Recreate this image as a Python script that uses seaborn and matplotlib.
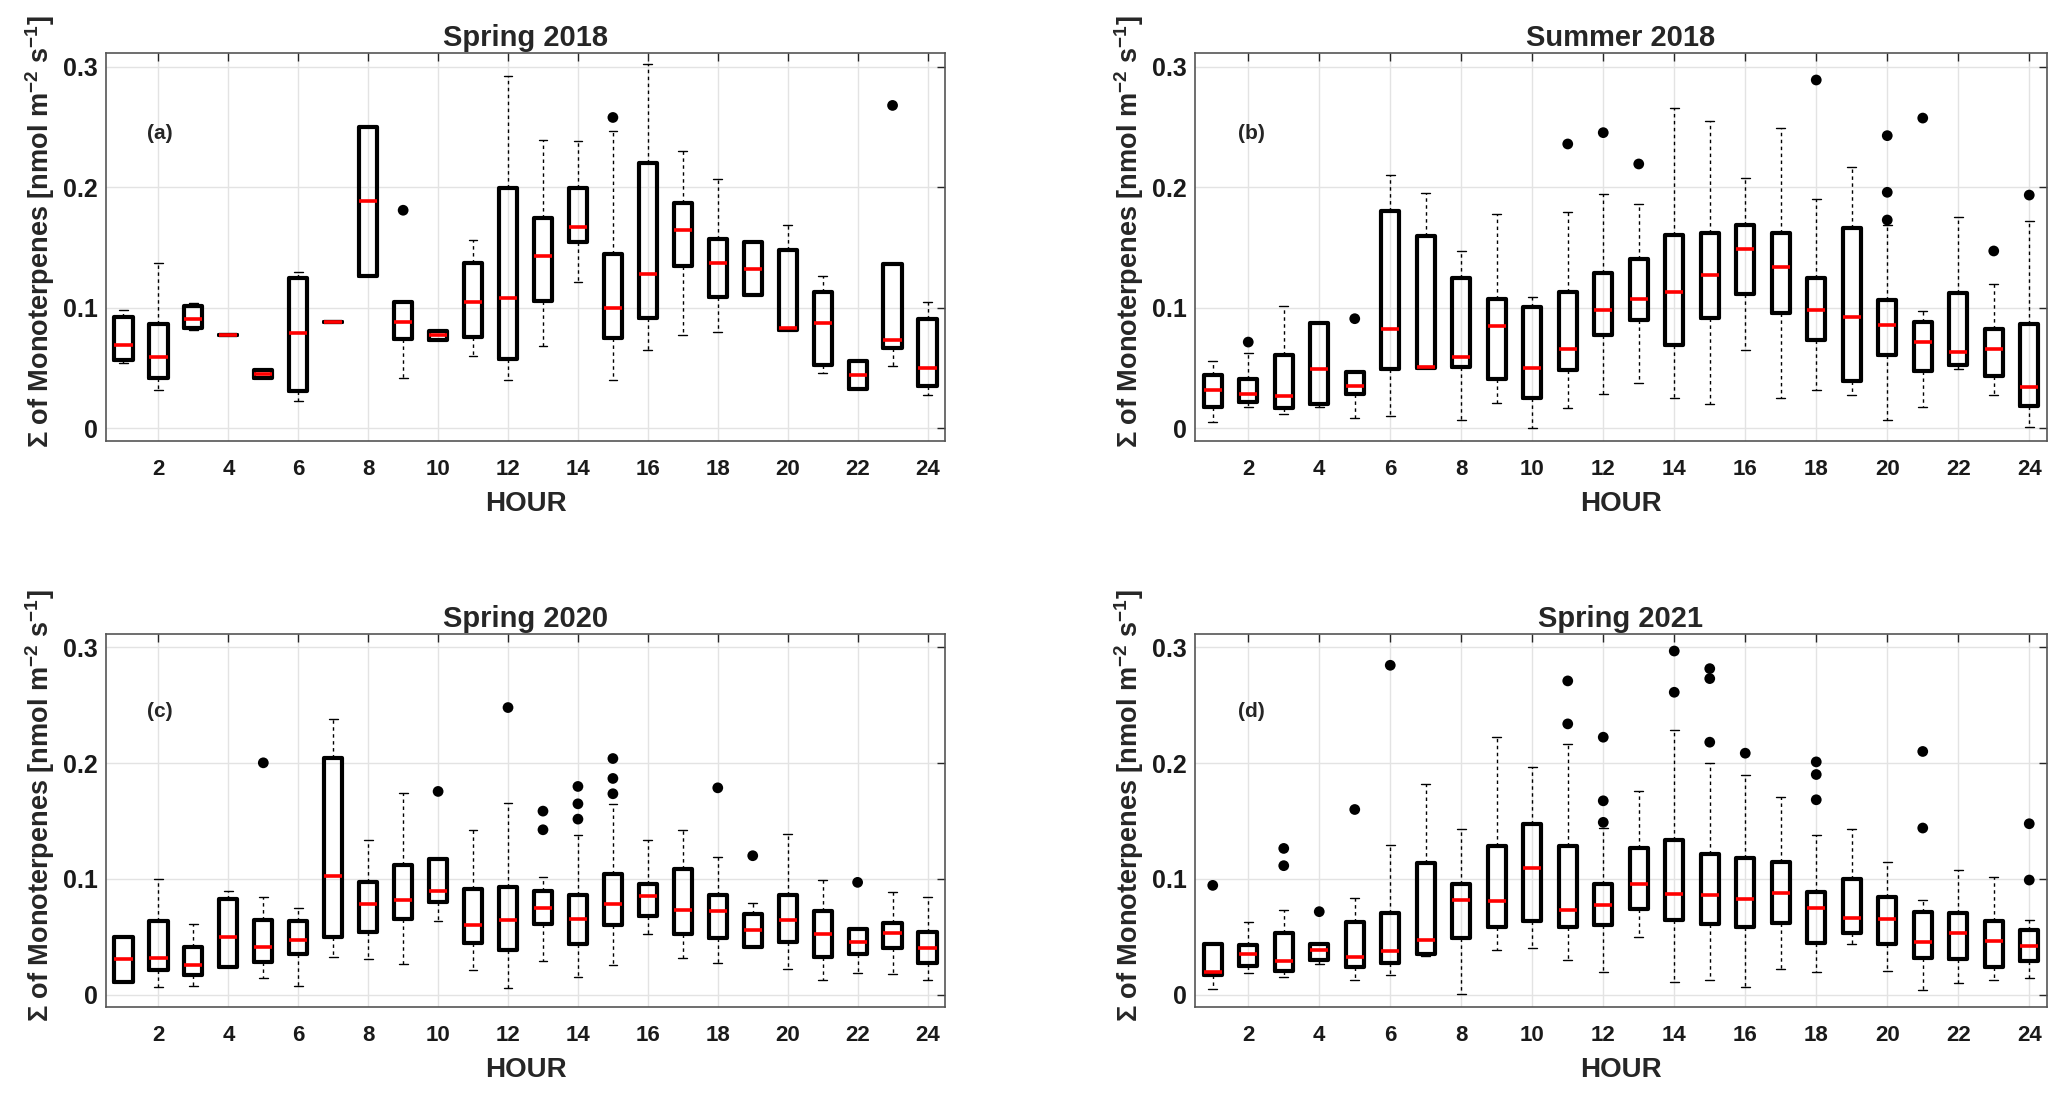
import matplotlib.pyplot as plt
import seaborn as sns
import pandas as pd

hours = list(range(1, 25))

# (a) Spring 2018
a_q1 = [0.057, 0.0415, 0.0835, 0.0772, 0.042, 0.0307, 0.088, 0.1267, 0.0739, 0.0736, 0.0758, 0.0575,
        0.1059, 0.1549, 0.0747, 0.0916, 0.135, 0.1093, 0.1104, 0.0813, 0.0526, 0.0324, 0.0667, 0.0349]
a_med = [0.069, 0.059, 0.091, 0.0772, 0.0454, 0.079, 0.088, 0.1884, 0.0885, 0.0775, 0.1048, 0.1079,
         0.143, 0.1674, 0.0996, 0.1281, 0.1646, 0.1369, 0.1325, 0.0833, 0.0877, 0.0443, 0.0733, 0.0503]
a_q3 = [0.092, 0.0866, 0.1015, 0.0772, 0.0487, 0.125, 0.088, 0.25, 0.1048, 0.0805, 0.1372, 0.1994,
        0.1746, 0.1994, 0.1444, 0.2202, 0.187, 0.1571, 0.1549, 0.1477, 0.1131, 0.0559, 0.1364, 0.091]
a_lo = [0.054, 0.032, 0.082, 0.0772, 0.042, 0.023, 0.088, 0.1267, 0.0418, 0.0736, 0.060, 0.0398,
        0.0683, 0.1214, 0.0401, 0.0647, 0.0772, 0.0799, 0.1104, 0.0813, 0.0459, 0.0324, 0.0515, 0.0274]
a_hi = [0.0985, 0.137, 0.104, 0.0772, 0.0487, 0.1297, 0.088, 0.25, 0.1048, 0.0805, 0.156, 0.2927,
        0.2396, 0.2382, 0.247, 0.3021, 0.2299, 0.2072, 0.1549, 0.1687, 0.1264, 0.0559, 0.1364, 0.1051]
a_out_h = [9, 15, 23]
a_out_v = [0.181, 0.258, 0.268]

# (b) Summer 2018
b_q1 = [0.0177, 0.0216, 0.0172, 0.0205, 0.0285, 0.0495, 0.0503, 0.0509, 0.0412, 0.0252, 0.0484, 0.0772,
        0.0896, 0.0689, 0.0916, 0.1112, 0.0957, 0.0733, 0.0393, 0.0611, 0.0476, 0.0528, 0.0432, 0.0188]
b_med = [0.0315, 0.0288, 0.0266, 0.049, 0.0354, 0.0827, 0.0509, 0.0595, 0.0846, 0.0501, 0.0661, 0.0985,
         0.1071, 0.1134, 0.1272, 0.1488, 0.1336, 0.0979, 0.0921, 0.0858, 0.0719, 0.0633, 0.0658, 0.0346]
b_q3 = [0.0443, 0.0412, 0.0606, 0.0877, 0.0465, 0.1801, 0.1596, 0.1248, 0.1076, 0.1007, 0.1131, 0.1292,
        0.1408, 0.1602, 0.1621, 0.169, 0.1624, 0.125, 0.1665, 0.1062, 0.0882, 0.1126, 0.0824, 0.0869]
b_lo = [0.0055, 0.0177, 0.0116, 0.0177, 0.0083, 0.010, 0.0503, 0.0072, 0.0213, 0.0006, 0.0169, 0.0288,
        0.0376, 0.0252, 0.0205, 0.0653, 0.0252, 0.0321, 0.0277, 0.0072, 0.0177, 0.0495, 0.0279, 0.0011]
b_hi = [0.0559, 0.0625, 0.1015, 0.0882, 0.0465, 0.2105, 0.1953, 0.1474, 0.1781, 0.109, 0.1795, 0.1947,
        0.1862, 0.2661, 0.2553, 0.208, 0.249, 0.1903, 0.2166, 0.1687, 0.0974, 0.1754, 0.1195, 0.1718]
b_out_h = [2, 5, 11, 12, 13, 18, 20, 20, 20, 21, 23, 24]
b_out_v = [0.0716, 0.091, 0.236, 0.2454, 0.2194, 0.2891, 0.2429, 0.1959, 0.1729, 0.2575, 0.1472, 0.1936]

# (c) Spring 2020
c_q1 = [0.0115, 0.0213, 0.017, 0.0236, 0.0287, 0.0356, 0.0497, 0.054, 0.0655, 0.0799, 0.0448, 0.0391,
        0.0615, 0.044, 0.0606, 0.0684, 0.0526, 0.0491, 0.0417, 0.046, 0.0325, 0.0353, 0.0405, 0.0276]
c_med = [0.0307, 0.0319, 0.0259, 0.0497, 0.0417, 0.0471, 0.1029, 0.0787, 0.0816, 0.0899, 0.0606, 0.0644,
         0.075, 0.0652, 0.0784, 0.0853, 0.0736, 0.0721, 0.0563, 0.0649, 0.0529, 0.046, 0.0534, 0.0408]
c_q3 = [0.0497, 0.0641, 0.0414, 0.083, 0.0649, 0.0638, 0.2043, 0.0974, 0.1118, 0.1172, 0.0917, 0.0934,
        0.0897, 0.0859, 0.1043, 0.096, 0.1086, 0.0859, 0.0695, 0.0865, 0.0727, 0.0569, 0.0618, 0.054]
c_lo = [0.0115, 0.0066, 0.0075, 0.0236, 0.0149, 0.008, 0.0328, 0.0313, 0.0267, 0.0635, 0.0213, 0.006,
        0.0296, 0.0158, 0.0261, 0.0523, 0.0316, 0.0279, 0.0417, 0.0221, 0.0132, 0.0187, 0.0178, 0.0126]
c_hi = [0.0497, 0.1003, 0.0615, 0.0899, 0.0842, 0.0753, 0.2382, 0.1333, 0.1741, 0.1172, 0.1425, 0.1658,
        0.1017, 0.1379, 0.1647, 0.1336, 0.1425, 0.119, 0.0793, 0.1388, 0.0989, 0.0569, 0.0891, 0.0842]
c_out_h = [5, 10, 12, 13, 13, 14, 14, 14, 15, 15, 15, 18, 19, 22]
c_out_v = [0.2003, 0.1756, 0.248, 0.1586, 0.1425, 0.1799, 0.1649, 0.1517, 0.204, 0.1868, 0.1736,
           0.1787, 0.1201, 0.0971]

# (d) Spring 2021
d_q1 = [0.017, 0.0253, 0.021, 0.0299, 0.0236, 0.0279, 0.0356, 0.0491, 0.0589, 0.0641, 0.0589, 0.0601,
        0.0741, 0.0644, 0.0615, 0.0586, 0.0621, 0.0451, 0.0534, 0.0443, 0.0319, 0.0313, 0.0239, 0.0293]
d_med = [0.0198, 0.0356, 0.0293, 0.0391, 0.0328, 0.0379, 0.0477, 0.0816, 0.0813, 0.1092, 0.073, 0.0779,
         0.0954, 0.0871, 0.0862, 0.083, 0.0879, 0.075, 0.0664, 0.0655, 0.0457, 0.0532, 0.0468, 0.042]
d_q3 = [0.0443, 0.0431, 0.0537, 0.044, 0.0626, 0.071, 0.1135, 0.0957, 0.1287, 0.1474, 0.1284, 0.096,
        0.1267, 0.1339, 0.1216, 0.1178, 0.1147, 0.0885, 0.100, 0.0848, 0.0713, 0.0704, 0.0635, 0.0563]
d_lo = [0.0052, 0.019, 0.0152, 0.0264, 0.0129, 0.0175, 0.0333, 0.0011, 0.0385, 0.0405, 0.0299, 0.0195,
        0.0503, 0.0115, 0.0132, 0.0066, 0.0227, 0.0193, 0.044, 0.0204, 0.0046, 0.0098, 0.0129, 0.0144]
d_hi = [0.0443, 0.0626, 0.073, 0.044, 0.0839, 0.1296, 0.1819, 0.1428, 0.2224, 0.1968, 0.2164, 0.144,
        0.1756, 0.2287, 0.2003, 0.1902, 0.171, 0.1382, 0.1434, 0.1144, 0.0816, 0.1075, 0.1014, 0.0644]
d_out_h = [1, 3, 3, 4, 5, 6, 11, 11, 12, 12, 12, 14, 14, 15, 15, 15, 16, 18, 18, 18, 21, 21, 24, 24]
d_out_v = [0.0945, 0.1264, 0.1115, 0.0718, 0.16, 0.2845, 0.271, 0.2339, 0.2224, 0.1675, 0.1489,
           0.2968, 0.2612, 0.2816, 0.273, 0.2181, 0.2086, 0.2011, 0.1902, 0.1684, 0.2101, 0.144,
           0.1477, 0.0991]

titles = ['Spring 2018', 'Summer 2018', 'Spring 2020', 'Spring 2021']
letters = ['(a)', '(b)', '(c)', '(d)']
ylabel = 'Σ of Monoterpenes [nmol m$^{-2}$ s$^{-1}$]'

sns.set_theme(style='white')
plt.rcParams['font.family'] = ['Liberation Sans', 'DejaVu Sans']
plt.rcParams['font.weight'] = 'bold'
plt.rcParams['mathtext.fontset'] = 'custom'
plt.rcParams['mathtext.rm'] = 'Liberation Sans:bold'
plt.rcParams['mathtext.bf'] = 'Liberation Sans:bold'
plt.rcParams['mathtext.default'] = 'rm'

W, H = 2067, 1098
fig = plt.figure(figsize=(W / 100, H / 100), dpi=100)
# axes boxes in pixels: left, top, right, bottom
boxes = [(106, 53, 945, 441), (1195, 53, 2047, 441),
         (106, 634, 945, 1007), (1195, 634, 2047, 1007)]

panels = [
    (a_q1, a_med, a_q3, a_lo, a_hi, a_out_h, a_out_v),
    (b_q1, b_med, b_q3, b_lo, b_hi, b_out_h, b_out_v),
    (c_q1, c_med, c_q3, c_lo, c_hi, c_out_h, c_out_v),
    (d_q1, d_med, d_q3, d_lo, d_hi, d_out_h, d_out_v),
]

dark = '#262626'
for i, (q1, med, q3, lo, hi, out_h, out_v) in enumerate(panels):
    l, t, r, b = boxes[i]
    ax = fig.add_axes([l / W, 1 - b / H, (r - l) / W, (b - t) / H])

    stats = [dict(med=m, q1=a, q3=c, whislo=w0, whishi=w1, fliers=[])
             for a, m, c, w0, w1 in zip(q1, med, q3, lo, hi)]
    ax.bxp(stats, positions=hours, widths=0.52, capwidths=0.25, showfliers=False,
           boxprops=dict(color='black', linewidth=3.0),
           medianprops=dict(color='red', linewidth=2.6),
           whiskerprops=dict(color='black', linewidth=1.0, linestyle=(0, (2.5, 2.5))),
           capprops=dict(color='black', linewidth=1.0), manage_ticks=False)

    out_df = pd.DataFrame({'hour': out_h, 'value': out_v})
    sns.scatterplot(data=out_df, x='hour', y='value', ax=ax, color='black', s=60,
                    edgecolor='none', legend=False, zorder=5)

    ax.set_xlim(0.5, 24.5)
    ax.set_ylim(-0.0105, 0.3115)
    ax.set_xticks(range(2, 25, 2))
    ax.set_xticklabels([str(h) for h in range(2, 25, 2)], fontsize=16, fontweight='bold')
    ax.set_yticks([0, 0.1, 0.2, 0.3])
    ax.set_yticklabels(['0', '0.1', '0.2', '0.3'], fontsize=18, fontweight='bold')
    ax.grid(True, color='#e3e3e3', linewidth=1.0)
    ax.set_axisbelow(True)
    ax.tick_params(axis='both', direction='in', length=6, width=1, color=dark,
                   top=True, right=True, labelcolor='#1a1a1a')
    ax.tick_params(axis='x', pad=13)
    ax.tick_params(axis='y', pad=6)
    for sp in ax.spines.values():
        sp.set_color('#555555')
        sp.set_linewidth(1.2)

    ax.set_title(titles[i], fontsize=21, fontweight='bold', pad=5)
    ax.set_xlabel('HOUR', fontsize=20, fontweight='bold')
    ax.set_ylabel(ylabel, fontsize=19.5, fontweight='bold')
    ax.xaxis.set_label_coords(0.5, -0.128 if i < 2 else -0.134)
    ax.yaxis.set_label_coords(-0.058 if i % 2 == 0 else -0.0575, 0.54)
    ax.text(2.05 if i % 2 == 0 else 2.09, 0.245, letters[i], fontsize=15,
            fontweight='bold', ha='center', va='center')

plt.savefig('out.png', dpi=100)
